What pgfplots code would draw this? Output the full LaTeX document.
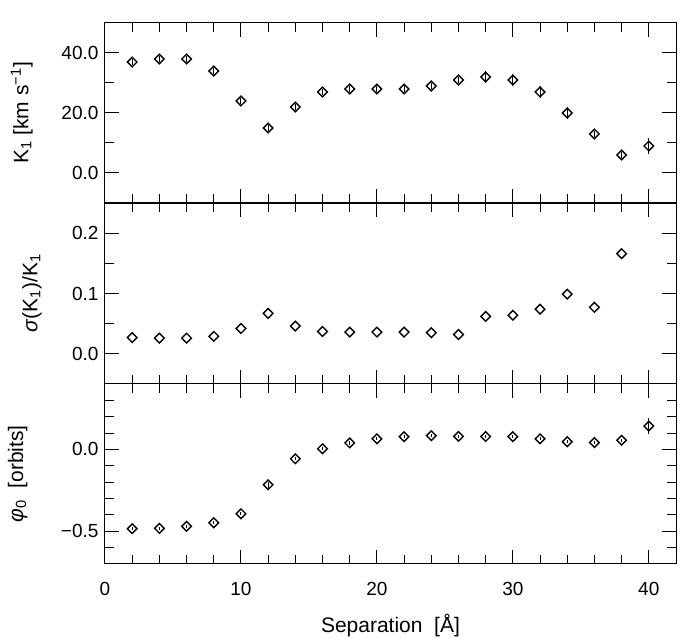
\documentclass[border=0pt]{standalone}
\usepackage{fontspec}
\setmainfont{Liberation Sans}
\usepackage{pgfplots}
\pgfplotsset{compat=1.18}
\begin{document}
\begin{tikzpicture}
\useasboundingbox (0,0) rectangle (694pt,639pt);
\pgfplotsset{
  panel/.style={
    scale only axis, width=571pt,
    xmin=0, xmax=42,
    xtick={0,10,20,30,40},
    minor xtick={2,4,6,8,12,14,16,18,22,24,26,28,32,34,36,38},
    tick align=inside, tick pos=both,
    major tick length=14pt, minor tick length=9pt,
    axis line style={line width=1pt},
    tick style={black, line width=1pt},
    every tick label/.append style={font=\fontsize{19}{22}\selectfont},
    label style={font=\fontsize{21}{24}\selectfont},
    yticklabel style={xshift=-3pt},
    xticklabel style={yshift=-15pt},
    anchor=south west,
  },
  pts/.style={only marks, black, mark=square, mark size=3.4pt,
    mark options={rotate=45, line width=1.4pt, black, solid}},
  errs/.style={error bars/.cd, y dir=both, y explicit, error mark=none,
    error bar style={line width=1pt, black}},
}

% top: K1
\begin{axis}[panel, at={(105pt,436pt)}, height=180pt,
  ymin=-10, ymax=50,
  ytick={0,20,40}, yticklabels={0.0,20.0,40.0},
  minor ytick={10,30},
  xticklabels={},
  clip=false,
  ylabel={K\textsubscript{1} [km s\textsuperscript{−1}]},
  ylabel style={at={(axis description cs:-0.146,0.5)}, anchor=center}]
\addplot[pts, errs] coordinates {
(2,37) +- (0,1.0)
(4,38) +- (0,1.0)
(6,38) +- (0,1.0)
(8,34) +- (0,1.0)
(10,24) +- (0,1.0)
(12,15) +- (0,1.0)
(14,22) +- (0,1.0)
(16,27) +- (0,1.0)
(18,28) +- (0,1.0)
(20,28) +- (0,1.0)
(22,28) +- (0,1.0)
(24,29) +- (0,1.0)
(26,31) +- (0,1.0)
(28,32) +- (0,2.0)
(30,31) +- (0,2.0)
(32,27) +- (0,2.0)
(34,20) +- (0,2.0)
(36,13) +- (0,1.0)
(38,6) +- (0,1.0)
(40,9) +- (0,2.8)
};
\draw[line width=2.6pt] (rel axis cs:0,0) -- (rel axis cs:1,0);
\end{axis}

% middle: sigma(K1)/K1
\begin{axis}[panel, at={(105pt,255pt)}, height=181pt,
  ymin=-0.05, ymax=0.25,
  ytick={0,0.1,0.2}, yticklabels={0.0,0.1,0.2},
  minor ytick={0.05,0.15},
  xticklabels={},
  ylabel={\textit{σ}(K\textsubscript{1})/K\textsubscript{1}},
  ylabel style={at={(axis description cs:-0.128,0.5)}, anchor=center}]
\addplot[pts] coordinates {
(2,0.027)
(4,0.026)
(6,0.026)
(8,0.029)
(10,0.042)
(12,0.067)
(14,0.046)
(16,0.037)
(18,0.036)
(20,0.036)
(22,0.036)
(24,0.035)
(26,0.032)
(28,0.062)
(30,0.064)
(32,0.074)
(34,0.099)
(36,0.077)
(38,0.166)
};
\end{axis}

% bottom: phi0
\begin{axis}[panel, at={(105pt,75pt)}, height=180pt,
  ymin=-0.7, ymax=0.4,
  ytick={-0.5,0}, yticklabels={−0.5,0.0},
  minor ytick={-0.6,-0.4,-0.3,-0.2,-0.1,0.1,0.2,0.3},
  xticklabels={0,10,20,30,40},
  xlabel={Separation\ \ [Å]},
  xlabel style={at={(axis description cs:0.5,-0.34)}, anchor=center},
  ylabel={\textit{φ}\textsubscript{0}\ \ [orbits]},
  ylabel style={at={(axis description cs:-0.153,0.5)}, anchor=center}]
\addplot[pts, errs] coordinates {
(2,-0.484) +- (0,0.01)
(4,-0.482) +- (0,0.01)
(6,-0.470) +- (0,0.01)
(8,-0.448) +- (0,0.01)
(10,-0.393) +- (0,0.01)
(12,-0.216) +- (0,0.02)
(14,-0.057) +- (0,0.01)
(16,0.004) +- (0,0.01)
(18,0.040) +- (0,0.01)
(20,0.065) +- (0,0.01)
(22,0.078) +- (0,0.01)
(24,0.084) +- (0,0.01)
(26,0.080) +- (0,0.01)
(28,0.079) +- (0,0.01)
(30,0.078) +- (0,0.01)
(32,0.065) +- (0,0.01)
(34,0.047) +- (0,0.01)
(36,0.042) +- (0,0.01)
(38,0.056) +- (0,0.01)
(40,0.143) +- (0,0.048)
};
\end{axis}
\end{tikzpicture}
\end{document}
